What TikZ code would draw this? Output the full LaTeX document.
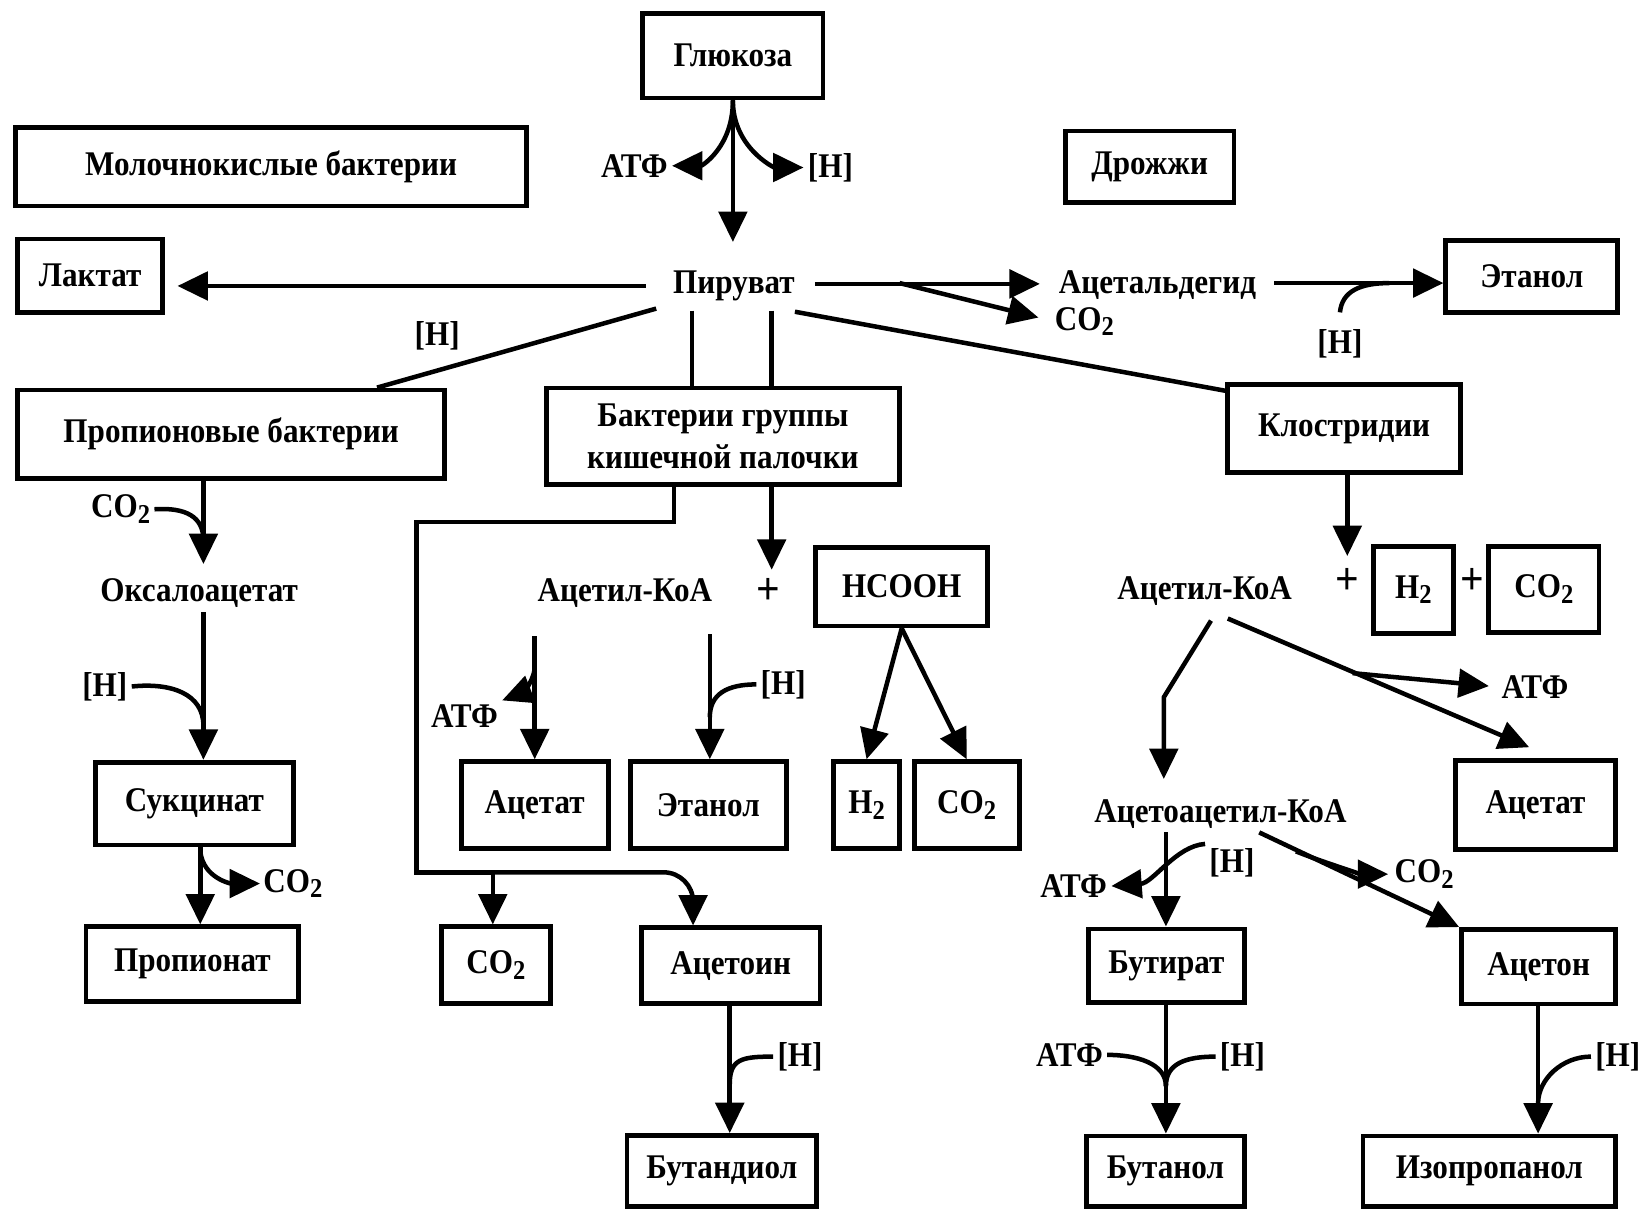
\documentclass[tikz,border=0pt]{standalone}
\usepackage{fontspec}
\setmainfont{Liberation Serif}[FakeStretch=0.9]
\usetikzlibrary{arrows.meta,calc}
\newcommand{\ix}[1]{\raisebox{-0.35ex}{\fontsize{26}{26}\selectfont #1}}
\tikzset{
  every node/.style={font=\fontsize{33}{40}\selectfont\bfseries, inner sep=4pt},
  box/.style={draw, line width=4.6pt, inner sep=0pt},
  ln/.style={line width=4.3pt},
  arr/.style={ln, -{Triangle[length=29pt,width=27pt]}},
  lbl/.style={anchor=base},
  plussign/.style={font=\fontsize{44}{44}\selectfont\bfseries, inner sep=2pt},
}
\begin{document}
\begin{tikzpicture}[x=1pt,y=-1pt]
\useasboundingbox (0,0) rectangle (1568,1153);
% boxes
\node[box,minimum width=172,minimum height=81] (glu) at (699,53) {Глюкоза};
\node[box,minimum width=487,minimum height=75] (milk) at (258.5,159) {Молочнокислые бактерии};
\node[box,minimum width=161,minimum height=68] (yeast) at (1096.5,159) {Дрожжи};
\node[box,minimum width=138,minimum height=70] (lac) at (86,263) {Лактат};
\node[box,minimum width=407,minimum height=84] (prop) at (220.5,414) {Пропионовые бактерии};
\node[box,minimum width=337,minimum height=92,align=center] (ent) at (689.5,416) {Бактерии группы\\кишечной палочки};
\node[box,minimum width=222,minimum height=84] (clos) at (1282,409) {Клостридии};
\node[box,minimum width=164,minimum height=69] (eth1) at (1461,263.5) {Этанол};
\node[box,minimum width=189,minimum height=79] (succ) at (185.5,766.5) {Сукцинат};
\node[box,minimum width=203,minimum height=71] (propn) at (183.5,919.5) {Пропионат};
\node[box,minimum width=164,minimum height=75] (hcooh) at (860,559.5) {HCOOH};
\node[box,minimum width=140,minimum height=83] (ace1) at (510,768) {Ацетат};
\node[box,minimum width=149,minimum height=83] (eth2) at (675.5,768) {Этанол};
\node[box,minimum width=63,minimum height=83] (h2a) at (826.5,768) {H\ix{2}};
\node[box,minimum width=100,minimum height=83] (co2a) at (922,768) {CO\ix{2}};
\node[box,minimum width=104,minimum height=73] (co2b) at (473,920.5) {CO\ix{2}};
\node[box,minimum width=170,minimum height=72] (acetoin) at (697,921) {Ацетоин};
\node[box,minimum width=181,minimum height=68] (butd) at (688.5,1117) {Бутандиол};
\node[box,minimum width=76,minimum height=83] (h2b) at (1348,562.5) {H\ix{2}};
\node[box,minimum width=105,minimum height=82] (co2c) at (1472.5,562) {CO\ix{2}};
\node[box,minimum width=153,minimum height=85] (ace2) at (1464.5,767.5) {Ацетат};
\node[box,minimum width=149,minimum height=70] (butyr) at (1112.5,921) {Бутират};
\node[box,minimum width=147,minimum height=71] (aceton) at (1467.5,922) {Ацетон};
\node[box,minimum width=151,minimum height=67] (buol) at (1111.5,1117) {Бутанол};
\node[box,minimum width=241,minimum height=67] (isop) at (1420.5,1117) {Изопропанол};
% labels
\node[lbl] (pyr) at (700,280) {Пируват};
\node[lbl] (atp1) at (605,169) {АТФ};
\node[lbl] (h1) at (792,169) {[H]};
\node[lbl] (hL) at (417,330) {[H]};
\node[lbl] (acald) at (1104,280) {Ацетальдегид};
\node[lbl,anchor=base west,inner sep=0pt] (co2y) at (1006,315) {CO\ix{2}};
\node[lbl] (hy) at (1278,337) {[H]};
\node[lbl] (co2p) at (115,494) {CO\ix{2}};
\node[lbl] (oxa) at (190,574) {Оксалоацетат};
\node[lbl] (hp) at (100,664) {[H]};
\node[lbl,anchor=base west,inner sep=0pt] (co2s) at (251,851) {CO\ix{2}};
\node[lbl] (acoa1) at (596,574) {Ацетил-КоА};
\node[plussign] (plus1) at (733,564) {+};
\node[lbl] (atp2) at (443,694) {АТФ};
\node[lbl] (h2) at (747,662) {[H]};
\node[lbl] (h3) at (763,1017) {[H]};
\node[lbl] (acoa2) at (1149,572) {Ацетил-КоА};
\node[plussign] (plus2) at (1285,555) {+};
\node[plussign] (plus3) at (1404,555) {+};
\node[lbl] (atp3) at (1464,666) {АТФ};
\node[lbl] (acac) at (1164,784) {Ацетоацетил-КоА};
\node[lbl] (h4) at (1175,832) {[H]};
\node[lbl] (atp4) at (1024,856) {АТФ};
\node[lbl,anchor=base west,inner sep=0pt] (co2d) at (1330,842) {CO\ix{2}};
\node[lbl] (atp5) at (1020,1017) {АТФ};
\node[lbl] (h5) at (1185,1017) {[H]};
\node[lbl] (h6) at (1543,1017) {[H]};
% junction coordinates
\coordinate (pb) at (858,270);
\coordinate (qm) at (1325,270);
\coordinate (px) at (194,0);
\coordinate (pj1) at (194,515);
\coordinate (pj2) at (194,692);
\coordinate (sx) at (191,0);
\coordinate (sj) at (191,812);
\coordinate (e1) at (643,498);
\coordinate (e2) at (397,498);
\coordinate (e3) at (397,832);
\coordinate (e4) at (661,832);
\coordinate (e5) at (470,832);
\coordinate (ex) at (736,0);
\coordinate (ax1) at (510,0);
\coordinate (aj1) at (510,638);
\coordinate (ax2) at (677,0);
\coordinate (aj2) at (677,684);
\coordinate (bx) at (696,0);
\coordinate (bj) at (696,1034);
\coordinate (cx) at (1285,0);
\coordinate (cj1) at (1110,665);
\coordinate (cj2) at (1290,642);
\coordinate (kx) at (1112,0);
\coordinate (kj2) at (1236,812);
\coordinate (kj3) at (1112,1036);
\coordinate (ix) at (1467,0);
\coordinate (ij) at (1467,1052);
% glucose
\draw[arr] (glu.south) -- ++(0,135);
\draw[arr] (glu.south) .. controls +(0,45) and +(28,0) .. (atp1.east);
\draw[arr] (glu.south) .. controls +(0,45) and +(-28,0) .. (h1.west);
% pyruvate
\draw[arr,shorten <=22pt,shorten >=12pt] (pyr.west) -- (pyr.west -| lac.east);
\draw[ln] ($(pyr.south west)+(-12,3)$) -- ($(prop.north west)!0.838!(prop.north east)$);
\draw[ln] ($(pyr.south)+(-40,5)$) coordinate (v1) -- (v1 |- ent.north);
\draw[ln] ($(pyr.south)+(36,5)$) coordinate (v2) -- (v2 |- ent.north);
\draw[ln] ($(pyr.south east)+(-4,6)$) -- ($(clos.north west)+(0,8)$);
\draw[arr,shorten >=14pt] ($(pyr.east)+(15,-2)$) coordinate (pa) -- (pa -| acald.west);
\draw[arr,shorten >=16pt] (pb) -- (co2y.west);
% yeast
\draw[arr] ($(acald.east)+(13,-2)$) coordinate (qa) -- (qa -| eth1.west);
\draw[ln] ($(hy.north)+(0,-12)$) .. controls +(2,-20) and +(-28,0) .. (qm);
% propionic
\draw[arr,shorten >=10pt] (prop.south -| px) -- (oxa.north -| px);
\draw[ln] (co2p.east) .. controls +(30,-2) and +(0,-22) .. (pj1);
\draw[arr] (oxa.south -| px) -- (succ.north -| px);
\draw[ln] (hp.east) .. controls +(38,-4) and +(0,-30) .. (pj2);
\draw[arr] (succ.south -| sx) -- (propn.north -| sx);
\draw[arr,shorten >=3pt] (sj) .. controls +(3,26) and +(-30,0) .. (co2s.west);
% enteric
\draw[ln] (ent.south -| e1) -- (e1) -- (e2) -- (e3) -- (e5);
\draw[arr,rounded corners=28pt] (e5) -- (e4) -- (acetoin.north -| e4);
\draw[arr] (e5) -- (co2b.north -| e5);
\draw[arr,shorten >=6pt] (ent.south -| ex) -- (plus1.north -| ex);
\draw[arr,shorten <=23pt] (acoa1.south -| ax1) -- (ace1.north -| ax1);
\draw[arr] (aj1) .. controls +(-2,14) and +(18,-7) .. (atp2.north east);
\draw[arr,shorten <=21pt] (acoa1.south -| ax2) -- (eth2.north -| ax2);
\draw[ln] (h2.west) .. controls +(-28,0) and +(0,-22) .. (aj2);
\draw[arr] (hcooh.south) -- (h2a.north);
\draw[arr] (hcooh.south) -- (co2a.north);
\draw[arr] (acetoin.south -| bx) -- (butd.north -| bx);
\draw[ln] (h3.west) .. controls +(-30,0) and +(0,-24) .. (bj);
% clostridia
\draw[arr,shorten >=10pt] (clos.south -| cx) -- (plus2.north -| cx);
\draw[arr,shorten >=15pt] ($(acoa2.south)+(6,10)$) -- (cj1) -- (acac.north -| cj1);
\draw[arr] ($(acoa2.south)+(22,8)$) -- ($(ace2.north)+(-6,-10)$);
\draw[arr,shorten >=8pt] (cj2) -- (atp3.west);
\draw[arr] (acac.south -| kx) -- (butyr.north -| kx);
\draw[arr] (h4.north west) .. controls +(-28,2) and +(40,-3) .. (atp4.east);
\draw[arr] ($(acac.south)+(37,0)$) -- (aceton.north west);
\draw[arr,shorten >=6pt] (kj2) .. controls +(30,12) and +(-30,0) .. (co2d.west);
\draw[arr] (butyr.south -| kx) -- (buol.north -| kx);
\draw[ln] (atp5.east) .. controls +(28,0) and +(0,-22) .. (kj3);
\draw[ln] (h5.west) .. controls +(-28,0) and +(0,-22) .. (kj3);
\draw[arr] (aceton.south -| ix) -- (isop.north -| ix);
\draw[ln] (h6.west) .. controls +(-28,0) and +(0,-22) .. (ij);
\end{tikzpicture}
\end{document}
